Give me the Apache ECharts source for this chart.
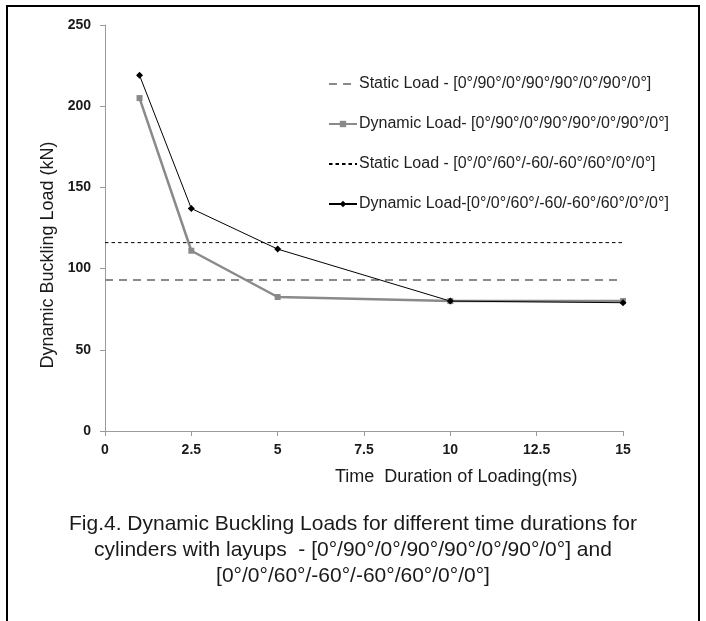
<!DOCTYPE html>
<html>
<head>
<meta charset="utf-8">
<script src="https://cdn.jsdelivr.net/npm/echarts@6/dist/echarts.min.js"></script>
<style>
  html, body { margin: 0; padding: 0; background: #fff; }
  #chart { width: 706px; height: 621px; }
</style>
</head>
<body>
<div id="chart"></div>
<script>
// 数据
var xTicks = [0, 2.5, 5, 7.5, 10, 12.5, 15];
var timeMs = [1, 2.5, 5, 10, 15];
var dynamicA = [205, 111, 82.5, 80, 80];   // [0°/90°/0°/90°/90°/0°/90°/0°]
var dynamicB = [219, 137, 112, 80, 79];    // [0°/0°/60°/-60/-60°/60°/0°/0°]
var staticX = [0, 15];
var staticA = [93, 93];
var staticB = [116, 116];

var names = [
  'Static Load - [0°/90°/0°/90°/90°/0°/90°/0°]',
  'Dynamic Load- [0°/90°/0°/90°/90°/0°/90°/0°]',
  'Static Load - [0°/0°/60°/-60/-60°/60°/0°/0°]',
  'Dynamic Load-[0°/0°/60°/-60/-60°/60°/0°/0°]'
];

function pairs(xs, ys) {
  return xs.map(function (x, i) { return [x, ys[i]]; });
}

var chart = echarts.init(document.getElementById('chart'));

var option = {
  animation: false,
  backgroundColor: '#fff',
  textStyle: { fontFamily: 'Liberation Sans, Arial, sans-serif' },
  title: {
    text: 'Fig.4. Dynamic Buckling Loads for different time durations for\ncylinders with layups  - [0°/90°/0°/90°/90°/0°/90°/0°] and\n[0°/0°/60°/-60°/-60°/60°/0°/0°]',
    left: 'center',
    top: 506,
    textStyle: {
      fontSize: 21,
      fontWeight: 'normal',
      color: '#1a1a1a',
      lineHeight: 26,
      align: 'center'
    }
  },
  legend: {
    orient: 'vertical',
    left: 328,
    top: 76,
    padding: 0,
    itemGap: 24,
    itemWidth: 28,
    itemHeight: 8,
    textStyle: { fontSize: 16, color: '#222', padding: [0, 0, 0, -3] },
    data: [
      { name: names[0], itemStyle: { opacity: 0 } },
      { name: names[1] },
      { name: names[2], itemStyle: { opacity: 0 } },
      { name: names[3] }
    ]
  },
  grid: { left: 105, right: 83, top: 25, bottom: 190 },
  xAxis: {
    type: 'value',
    min: 0,
    max: 15,
    interval: 2.5,
    axisLine: { lineStyle: { color: '#9a9a9a', width: 1 } },
    axisTick: { show: true, length: 5, lineStyle: { color: '#9a9a9a' } },
    splitLine: { show: false },
    axisLabel: {
      margin: 12,
      fontSize: 14,
      fontWeight: 'bold',
      color: '#1a1a1a',
      formatter: function (v) { return xTicks.indexOf(v) >= 0 ? String(v) : ''; }
    }
  },
  yAxis: {
    type: 'value',
    min: 0,
    max: 250,
    interval: 50,
    name: 'Dynamic Buckling Load (kN)',
    nameLocation: 'middle',
    nameGap: 44,
    nameTextStyle: { fontSize: 18, color: '#1a1a1a', padding: [0, 54, 0, 0] },
    axisLine: { show: true, lineStyle: { color: '#9a9a9a', width: 1 } },
    axisTick: { show: true, length: 5, lineStyle: { color: '#9a9a9a' } },
    splitLine: { show: false },
    axisLabel: { margin: 14, fontSize: 14, fontWeight: 'bold', color: '#1a1a1a' }
  },
  graphic: [
    {
      type: 'rect',
      shape: { x: 7, y: 6, width: 692, height: 650 },
      style: { fill: 'none', stroke: '#000', lineWidth: 2 },
      silent: true
    },
    {
      type: 'text',
      left: 335,
      top: 468,
      style: {
        text: 'Time  Duration of Loading(ms)',
        fontSize: 18,
        fill: '#1a1a1a',
        fontFamily: 'Liberation Sans, Arial, sans-serif'
      }
    }
  ],
  series: [
    {
      name: names[0],
      type: 'line',
      data: pairs(staticX, staticA),
      symbol: 'none',
      color: '#8a8a8a',
      lineStyle: { width: 2, type: [8, 6], color: '#8a8a8a' }
    },
    {
      name: names[1],
      type: 'line',
      data: pairs(timeMs, dynamicA),
      symbol: 'rect',
      symbolSize: 6,
      color: '#8a8a8a',
      itemStyle: { color: '#8a8a8a' },
      lineStyle: { width: 2.5, color: '#8a8a8a' }
    },
    {
      name: names[2],
      type: 'line',
      data: pairs(staticX, staticB),
      symbol: 'none',
      color: '#000',
      lineStyle: { width: 1, type: [3.5, 3], color: '#000' }
    },
    {
      name: names[3],
      type: 'line',
      data: pairs(timeMs, dynamicB),
      symbol: 'diamond',
      symbolSize: 7,
      color: '#000',
      itemStyle: { color: '#000' },
      lineStyle: { width: 1, color: '#000' }
    }
  ]
};

chart.setOption(option);
</script>
</body>
</html>
